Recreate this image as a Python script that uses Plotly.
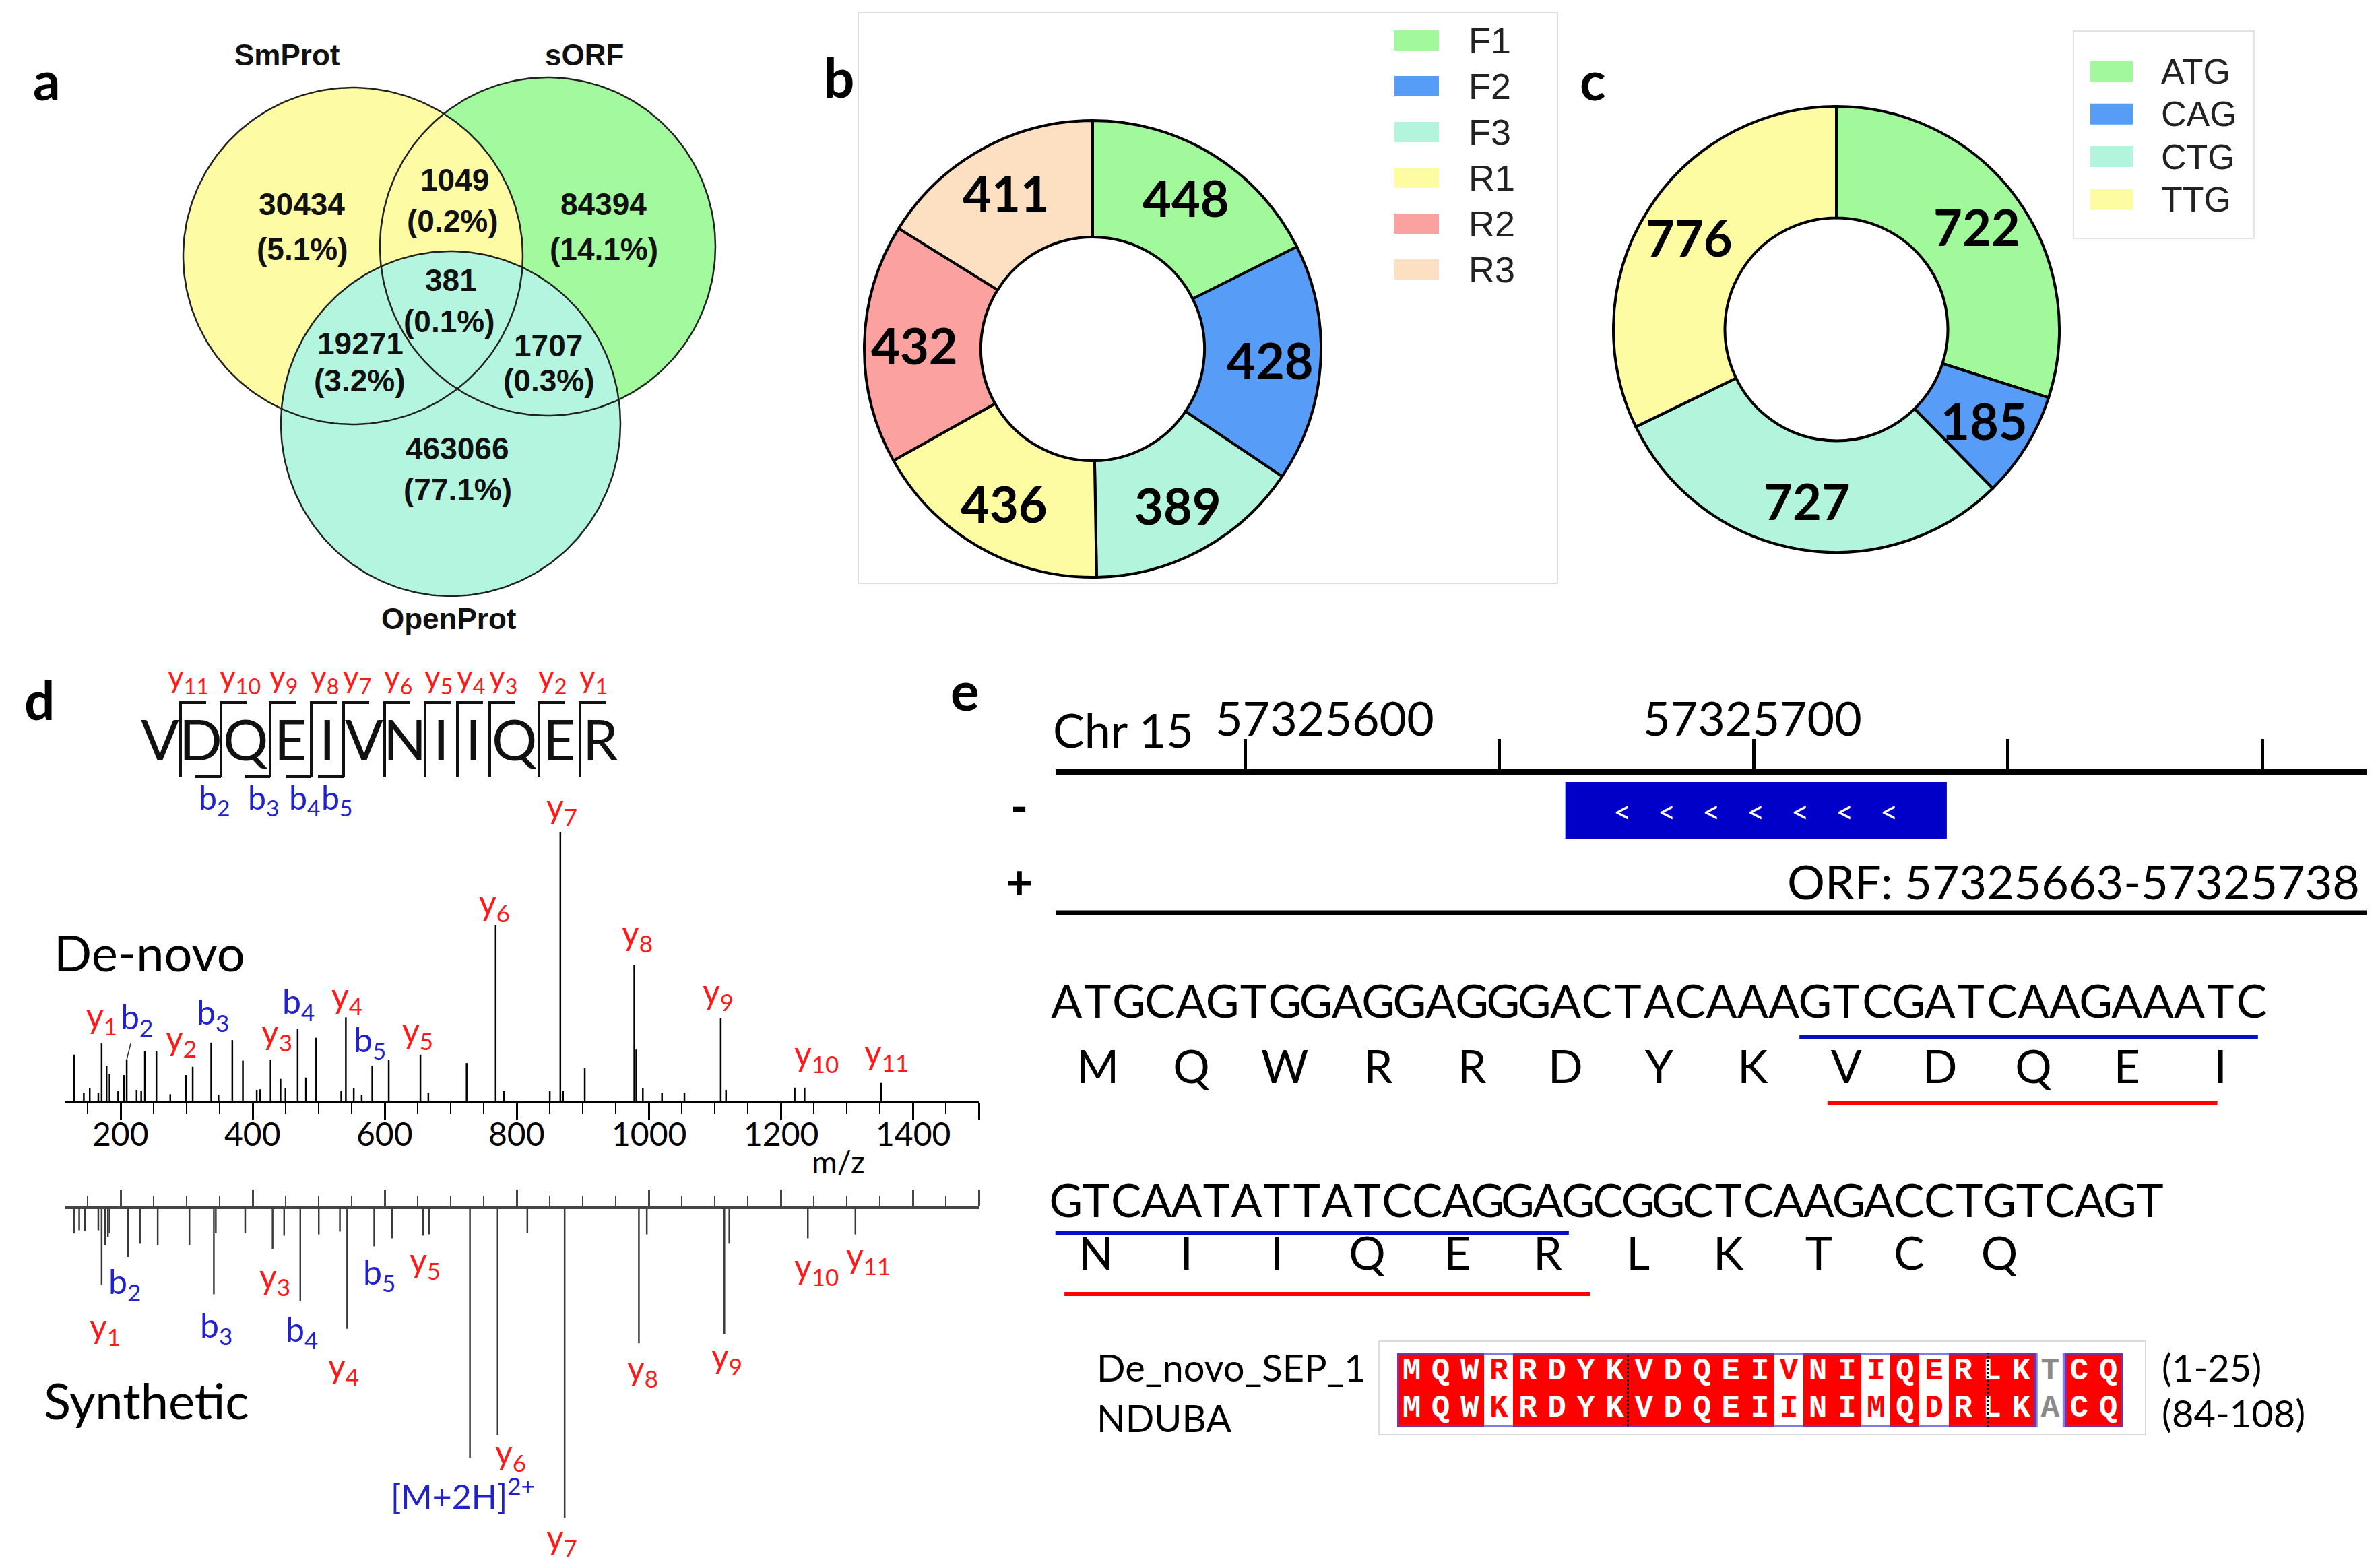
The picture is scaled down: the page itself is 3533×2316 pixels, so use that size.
import numpy as np
import plotly.graph_objects as go

W, H = 3533, 2316

# ======================= DATA =======================
venn_sets = ["SmProt", "sORF", "OpenProt"]
venn_regions = ["SmProt only", "SmProt & sORF", "sORF only", "all three",
                "SmProt & OpenProt", "sORF & OpenProt", "OpenProt only"]
venn_counts = [30434, 1049, 84394, 381, 19271, 1707, 463066]

frame_labels = ["F1", "F2", "F3", "R1", "R2", "R3"]
frame_counts = [448, 428, 389, 436, 432, 411]

codon_labels = ["ATG", "CAG", "CTG", "TTG"]
codon_counts = [722, 185, 727, 776]

peptide = "VDQEIVNIIQER"
y_ion_labels = ["y11", "y10", "y9", "y8", "y7", "y6", "y5", "y4", "y3", "y2", "y1"]
b_ion_labels = ["b2", "b3", "b4", "b5"]

denovo_mz = [129, 144, 153, 166, 171, 178.5, 183, 196, 205, 209, 224, 231, 236.5, 254, 275,
             298.5, 309, 337, 348, 369, 385, 406, 411, 427, 442, 449.5, 468, 480.5, 496, 534,
             541, 553, 565, 581, 606, 654, 666, 724, 768, 780.5, 850, 866, 870, 903, 978,
             981, 991, 1020, 1054, 1109, 1117, 1221, 1236, 1352]
denovo_int = [0.171, 0.03, 0.045, 0.03, 0.213, 0.13, 0.10, 0.036, 0.095, 0.153, 0.04, 0.036, 0.185, 0.185, 0.024,
              0.095, 0.126, 0.216, 0.022, 0.225, 0.149, 0.04, 0.042, 0.153, 0.081, 0.045, 0.266, 0.086, 0.234, 0.036,
              0.31, 0.045, 0.022, 0.13, 0.153, 0.171, 0.03, 0.14, 0.653, 0.036, 0.036, 1.0, 0.036, 0.12, 0.504,
              0.19, 0.045, 0.03, 0.03, 0.306, 0.04, 0.048, 0.048, 0.066]
denovo_ions = ["y1", "b2", "y2", "b3", "y3", "b4", "y4", "b5", "y5", "y6", "y7", "y8", "y9", "y10", "y11"]
denovo_ion_mz = [171, 209, 309, 337, 427, 468, 541, 581, 654, 768, 866, 978, 1109, 1236, 1352]

synth_mz = [129, 137, 145.5, 166, 171, 176, 180.5, 183, 211, 229, 256, 304, 341, 344, 388.5,
            430, 447.5, 472, 500, 532, 543, 584, 611, 658, 667, 729, 771, 816, 872.5, 985,
            997, 1114.5, 1122, 1241, 1313]
synth_int = [0.079, 0.069, 0.071, 0.069, 0.246, 0.116, 0.09, 0.079, 0.155, 0.112, 0.116, 0.116, 0.276, 0.078, 0.078,
             0.129, 0.086, 0.297, 0.082, 0.073, 0.388, 0.121, 0.095, 0.086, 0.082, 0.806, 0.733, 0.078, 1.0, 0.435,
             0.082, 0.405, 0.112, 0.095, 0.082]
synth_ions = ["y1", "b2", "b3", "y3", "b4", "y4", "b5", "y5", "[M+2H]2+", "y6", "y7", "y8", "y9", "y10", "y11"]
synth_ion_mz = [171, 211, 341, 430, 472, 543, 584, 658, 729, 771, 872.5, 985, 1114.5, 1241, 1313]

mz_ticks = [200, 400, 600, 800, 1000, 1200, 1400]
mz_end = 1500

chrom_label = "Chr 15"
genome_ticks = [57325600, 57325650, 57325700, 57325750, 57325800]
genome_tick_labels = [57325600, 57325700]
orf_start, orf_end = 57325663, 57325738

dna_rows = ["ATGCAGTGGAGGAGGGACTACAAAGTCGATCAAGAAATC",
            "GTCAATATTATCCAGGAGCGGCTCAAGACCTGTCAGT"]
aa_rows = ["MQWRRDYKVDQEI", "NIIQERLKTCQ"]

aln_names = ["De_novo_SEP_1", "NDUBA"]
aln_seqs = ["MQWRRDYKVDQEIVNIIQERLKTCQ", "MQWKRDYKVDQEIINIMQDRLKACQ"]
aln_ranges = ["(1-25)", "(84-108)"]
similar_pairs = [{"R", "K"}, {"V", "I"}, {"I", "M"}, {"E", "D"}]

# ======================= HELPERS =======================
fig = go.Figure()
ann, shp = [], []


def xdom(a, b):
    return [a / W, b / W]


def ydom(top, bottom):
    return [1 - bottom / H, 1 - top / H]


def text(x, y, s, size, color="black", family="Lato", bold=False, xa="center", ya="middle",
         xref="x", yref="y", **kw):
    if bold:
        s = "<b>" + s + "</b>"
    d = dict(x=x, y=y, xref=xref, yref=yref, text=s, showarrow=False, xanchor=xa, yanchor=ya,
             font=dict(size=size, color=color, family=family))
    d.update(kw)
    ann.append(d)


def line(x0, y0, x1, y1, color="black", width=4, dash=None, xref="x", yref="y"):
    ln = dict(color=color, width=width)
    if dash:
        ln["dash"] = dash
    shp.append(dict(type="line", xref=xref, yref=yref, x0=x0, y0=y0, x1=x1, y1=y1, line=ln, layer="above"))


def rect(x0, y0, x1, y1, fill=None, color=None, width=0, dash=None, xref="x", yref="y", layer="above"):
    ln = dict(color=color if color else "rgba(0,0,0,0)", width=width)
    if dash:
        ln["dash"] = dash
    d = dict(type="rect", xref=xref, yref=yref, x0=x0, y0=y0, x1=x1, y1=y1, line=ln, layer=layer)
    if fill:
        d["fillcolor"] = fill
    shp.append(d)


# ======================= PANEL LABELS =======================
for lab, (x, y) in zip("abcde", [(61, 110), (1237, 106), (2356, 110), (50, 1030), (1424, 1016)]):
    text(x, y, lab, 80, bold=True)

# ======================= PANEL a : Venn =======================
venn_geom = {"SmProt": (516, 372, 252, 250, "#fdfca4"),
             "sORF": (805, 358, 249, 251, "#a3f99d"),
             "OpenProt": (661, 621, 252, 256, "#b3f5de")}
t = np.linspace(0, 2 * np.pi, 240)
for name in ["sORF", "SmProt", "OpenProt"]:
    cx, cy, rx, ry, col = venn_geom[name]
    fig.add_trace(go.Scatter(x=cx + rx * np.cos(t), y=cy + ry * np.sin(t), mode="lines", fill="toself",
                             fillcolor=col, line=dict(width=0), hoverinfo="skip", showlegend=False,
                             xaxis="x", yaxis="y"))
for name in venn_sets:
    cx, cy, rx, ry, col = venn_geom[name]
    fig.add_trace(go.Scatter(x=cx + rx * np.cos(t), y=cy + ry * np.sin(t), mode="lines",
                             line=dict(width=2.5, color="#222222"), hoverinfo="skip", showlegend=False,
                             xaxis="x", yaxis="y"))

venn_total = float(sum(venn_counts))
venn_num_pos = [(440, 295), (667, 259), (888, 295), (661, 408), (527, 502), (806, 505), (671, 658)]
venn_pct_pos = [(440, 362), (663, 320), (888, 362), (658, 469), (525, 557), (806, 557), (671, 719)]
for c, (x, y), (x2, y2) in zip(venn_counts, venn_num_pos, venn_pct_pos):
    text(x, y, f"{c}", 46, family="Liberation Sans", bold=True, color="#111")
    text(x2, y2, f"({100 * c / venn_total:.1f}%)", 46, family="Liberation Sans", bold=True, color="#111")
for name, (x, y) in zip(venn_sets, [(418, 73), (859, 73), (658, 910)]):
    text(x, y, name, 44, family="Liberation Sans", bold=True, color="#111")

# ======================= PANEL b, c : donuts =======================
frame_colors = ["#a2f99c", "#579df8", "#b3f4dc", "#fdfca2", "#fba2a1", "#fddfc1"]
codon_colors = ["#a2f99c", "#579df8", "#b3f4dc", "#fdfca2"]


def donut(labels, values, colors, cx, cy, r, hole, label_r, size):
    fig.add_trace(go.Pie(labels=labels, values=values, hole=hole, sort=False, direction="clockwise",
                         rotation=0, marker=dict(colors=colors, line=dict(color="black", width=4)),
                         textinfo="none", hoverinfo="skip", showlegend=False,
                         domain=dict(x=xdom(cx - r, cx + r), y=ydom(cy - r, cy + r))))
    tot = float(sum(values))
    cum = 0.0
    for v in values:
        a = 2 * np.pi * (cum + v / 2) / tot
        text(cx + label_r * r * np.sin(a), cy - label_r * r * np.cos(a), str(v), size, bold=True)
        cum += v


def legend(labels, colors, x_sw, w_sw, h_sw, y0, dy, x_txt, size):
    for i, (lab, col) in enumerate(zip(labels, colors)):
        y = y0 + i * dy
        rect(x_sw, y - h_sw / 2, x_sw + w_sw, y + h_sw / 2, fill=col)
        text(x_txt, y, lab, size, family="Liberation Sans", xa="left", color="#222")


rect(1266, 11, 2304, 858, color="#dddddd", width=2)
donut(frame_labels, frame_counts, frame_colors, 1614, 510, 339, 0.49, 0.78, 74)
legend(frame_labels, frame_colors, 2062, 66, 30, 52, 68, 2170, 54)

rect(3070, 38, 3338, 346, color="#e4e4e4", width=2)
donut(codon_labels, codon_counts, codon_colors, 2718, 481, 331, 0.5, 0.78, 74)
legend(codon_labels, codon_colors, 3095, 63, 31, 98, 63.3, 3198, 52)

# ======================= PANEL d : peptide map =======================
pep_slot = {"V": 61, "D": 60, "Q": 73, "E": 61, "I": 48, "N": 60, "R": 60}
bounds = [260.0]
for aa in peptide[1:-1]:
    bounds.append(bounds[-1] + pep_slot[aa])
centers = [bounds[0] - pep_slot[peptide[0]] / 2]
for i in range(1, len(peptide) - 1):
    centers.append((bounds[i - 1] + bounds[i]) / 2)
centers.append(bounds[-1] + pep_slot[peptide[-1]] / 2)
for aa, cxp in zip(peptide, centers):
    text(cxp, 1088, aa, 84, color="#111")
bx, by = [], []
y_lab_tweak = {0: -9, 1: 8}
for i, bnd in enumerate(bounds):
    bx += [bnd + 38, bnd, bnd, None]
    by += [1035, 1035, 1145, None]
    text(bnd + 20 + y_lab_tweak.get(i, 0), 999, "y<sub>" + y_ion_labels[i][1:] + "</sub>", 46,
         color="#ff1a1a")
for k, lab in enumerate(b_ion_labels):
    bnd = bounds[k + 1]
    bx += [bnd, bnd - 38, None]
    by += [1145, 1145, None]
    text(bnd - 10, 1179, "b<sub>" + lab[1:] + "</sub>", 48, color="#2222cc")
fig.add_trace(go.Scatter(x=bx, y=by, mode="lines", line=dict(color="#111", width=4), hoverinfo="skip",
                         showlegend=False, xaxis="x", yaxis="y"))

# ======================= PANEL d : spectra =======================
top_base, top_scale = 1626, 399
bot_base, bot_scale = 1787, 458


def stems(mz, h):
    xs, ys = [], []
    for m, v in zip(mz, h):
        xs += [m, m, None]
        ys += [0, v, None]
    return xs, ys


sx, sy = stems(denovo_mz, denovo_int)
fig.add_trace(go.Scatter(x=sx, y=sy, mode="lines", line=dict(color="black", width=2.5), hoverinfo="skip",
                         showlegend=False, xaxis="x2", yaxis="y2"))
sx, sy = stems(synth_mz, [-v for v in synth_int])
fig.add_trace(go.Scatter(x=sx, y=sy, mode="lines", line=dict(color="#3a3a3a", width=2.5), hoverinfo="skip",
                         showlegend=False, xaxis="x3", yaxis="y3"))


def lookup(mzs, ints, m):
    i = int(np.argmin(np.abs(np.array(mzs) - m)))
    return ints[i]


def ion_html(name):
    if name.startswith("["):
        return "[M+2H]<sup>2+</sup>"
    return name[0] + "<sub>" + name[1:] + "</sub>"


def ion_color(name):
    return "#ff1a1a" if name.startswith("y") else "#2222cc"


ION_SIZE = 50
top_shift = {"y1": (0, 3), "y2": (-17, 5), "b3": (2, 7), "y3": (9, 3), "b4": (1, 3), "y4": (2, -6),
             "b5": (-4, 0), "y5": (-4, -2), "y6": (-2, -5), "y7": (2, 0), "y8": (4, 10), "y9": (-4, 2),
             "y10": (18, 13), "y11": (8, 8)}
for name, m in zip(denovo_ions, denovo_ion_mz):
    h = lookup(denovo_mz, denovo_int, m)
    if name == "b2":
        ann.append(dict(x=m, y=h, xref="x2", yref="y2", text=ion_html(name), showarrow=True, arrowhead=0,
                        arrowwidth=1.5, arrowcolor="#333", ax=15, ay=-60, standoff=0,
                        font=dict(size=ION_SIZE, color=ion_color(name), family="Lato")))
    else:
        xs, ys = top_shift[name]
        text(m, h, ion_html(name), ION_SIZE, color=ion_color(name), xref="x2", yref="y2", ya="bottom",
             xshift=xs, yshift=ys)

bot_shift = {"y1": (5, -28), "b2": (-5, -4), "b3": (4, -14), "y3": (3, -8), "b4": (2, -10), "y4": (-5, -22),
             "b5": (7, -6), "y5": (3, -4), "[M+2H]2+": (-11, -18), "y6": (19, 8), "y7": (-4, 4),
             "y8": (6, -4), "y9": (4, 0), "y10": (13, -8), "y11": (19, 2)}
for name, m in zip(synth_ions, synth_ion_mz):
    h = -lookup(synth_mz, synth_int, m)
    xs, ys = bot_shift[name]
    text(m, h, ion_html(name), ION_SIZE, color=ion_color(name), xref="x3", yref="y3", ya="top",
         xshift=xs, yshift=ys)

# m/z tick labels placed just under the major ticks
for v in mz_ticks:
    text(v, 1674, str(v), 48, xref="x2", yref="y")

text(214, 1405, "De-novo", 74, xa="center")
text(209, 2070, "Synthetic", 74, xa="center")
text(1236, 1716, "m/z", 46)

# ======================= PANEL e : genome track =======================
px_per_bp = 7.55
g0 = genome_ticks[0] - (1840 - 1559) / px_per_bp
g1 = genome_ticks[0] + (3505 - 1840) / px_per_bp

fig.add_trace(go.Scatter(x=[orf_start, orf_end, orf_end, orf_start, orf_start],
                         y=[1153, 1153, 1237, 1237, 1153], mode="lines", fill="toself",
                         fillcolor="#0000c8", line=dict(width=0), hoverinfo="skip", showlegend=False,
                         xaxis="x4", yaxis="y4"))
for gx in np.linspace(orf_start + 0.15 * (orf_end - orf_start), orf_end - 0.15 * (orf_end - orf_start), 7):
    text(gx, 1196, "<", 46, color="white", xref="x4", yref="y")

text(1553, 1075, chrom_label, 70, xa="left")
for gv, xs in zip(genome_tick_labels, [118, -2]):
    text(gv, 1057, str(gv), 70, xref="x4", yref="y", xshift=xs)
text(1505, 1188, "-", 70, bold=True)
text(1505, 1300, "+", 70, bold=True)
text(3497, 1300, f"ORF: {orf_start}-{orf_end}", 70, xa="right")
line(1559, 1347, 3505, 1347, width=7)

# ======================= PANEL e : sequences =======================
row_x0 = 1552
row_pitch = [46.3, 44.7]
dna_y = [1486, 1782]
aa_y = [1583, 1860]
tx, ty, tt = [], [], []
for r, seq in enumerate(dna_rows):
    for i, ch in enumerate(seq):
        tx.append(row_x0 + (i + 0.5) * row_pitch[r])
        ty.append(dna_y[r])
        tt.append(ch)
fig.add_trace(go.Scatter(x=tx, y=ty, text=tt, mode="text", textposition="middle center",
                         textfont=dict(family="Lato", size=68, color="black"), hoverinfo="skip",
                         showlegend=False, xaxis="x", yaxis="y"))
tx, ty, tt = [], [], []
for r, seq in enumerate(aa_rows):
    for i, ch in enumerate(seq):
        tx.append(row_x0 + (3 * i + 1.5) * row_pitch[r])
        ty.append(aa_y[r])
        tt.append(ch)
fig.add_trace(go.Scatter(x=tx, y=ty, text=tt, mode="text", textposition="middle center",
                         textfont=dict(family="Lato", size=68, color="black"), hoverinfo="skip",
                         showlegend=False, xaxis="x", yaxis="y"))

blue_spans = [(0, 24.0, 38.7, 1532), (1, 0.15, 17.2, 1822)]
red_spans = [(0, 24.9, 37.4, 1629), (1, 0.45, 17.9, 1913)]
for r, c0, c1, yy in blue_spans:
    line(row_x0 + c0 * row_pitch[r], yy, row_x0 + c1 * row_pitch[r], yy, color="#0010c8", width=6)
for r, c0, c1, yy in red_spans:
    line(row_x0 + c0 * row_pitch[r], yy, row_x0 + c1 * row_pitch[r], yy, color="#ff0000", width=6)

# ======================= PANEL e : alignment =======================
ncol = len(aln_seqs[0])
z = []
for r in range(2):
    row = []
    for a, b in zip(aln_seqs[0], aln_seqs[1]):
        if a == b:
            row.append(2)
        elif {a, b} in similar_pairs:
            row.append(1)
        else:
            row.append(0)
    z.append(row)
fig.add_trace(go.Heatmap(z=z, x=list(range(ncol)), y=[0, 1], zmin=0, zmax=2, showscale=False,
                         colorscale=[[0, "#ffffff"], [0.74, "#ffffff"], [0.75, "#ff0000"], [1, "#ff0000"]],
                         hoverinfo="skip", xaxis="x5", yaxis="y5"))
lx, ly, lt, lc = [], [], [], []
for r in range(2):
    for i in range(ncol):
        lx.append(i)
        ly.append(r)
        lt.append(aln_seqs[r][i])
        lc.append("white" if z[r][i] == 2 else ("#ff0000" if z[r][i] == 1 else "#8a8a8a"))
fig.add_trace(go.Scatter(x=lx, y=ly, text=lt, mode="text", textposition="middle center",
                         textfont=dict(family="Liberation Mono", size=46, color=lc, weight="bold"),
                         hoverinfo="skip", showlegend=False, xaxis="x5", yaxis="y5"))
blocks = []
start = None
for i in range(ncol):
    if z[0][i] > 0 and start is None:
        start = i
    if z[0][i] == 0 and start is not None:
        blocks.append((start, i - 1))
        start = None
if start is not None:
    blocks.append((start, ncol - 1))
for b0, b1 in blocks:
    rect(b0 - 0.5, -0.5, b1 + 0.5, 1.5, color="rgba(70,70,225,0.7)", width=6, xref="x5", yref="y5")
pep_pos = aln_seqs[0].find(peptide)
rect(pep_pos - 0.55, -0.75, pep_pos + len(peptide) - 0.15, 1.66, color="black", width=3, dash="dot",
     xref="x5", yref="y5")
rect(2039, 1983, 3177, 2122, color="#dcdcdc", width=2)
for name, yy in zip(aln_names, [2021, 2096]):
    text(1618, yy, name, 56, xa="left")
for rg, yy in zip(aln_ranges, [2021, 2089]):
    text(3199, yy, rg, 56, xa="left")

# ======================= LAYOUT =======================
minor = dict(ticks="outside", tickmode="linear", tick0=0, dtick=50, ticklen=16, tickwidth=2,
             tickcolor="black", showgrid=False)
fig.update_layout(
    width=W, height=H, margin=dict(l=0, r=0, t=0, b=0),
    paper_bgcolor="white", plot_bgcolor="rgba(0,0,0,0)", showlegend=False, hovermode=False,
    xaxis=dict(domain=[0, 1], range=[0, W], visible=False),
    yaxis=dict(domain=[0, 1], range=[H, 0], visible=False),
    xaxis2=dict(domain=xdom(88, 1445), range=[115, mz_end], anchor="y2", showline=True, linecolor="black",
                linewidth=4, ticks="outside", ticklen=25, tickwidth=3, tickcolor="black", tickmode="array",
                tickvals=mz_ticks + [mz_end], showticklabels=False, showgrid=False, zeroline=False,
                minor=minor),
    yaxis2=dict(domain=ydom(top_base - top_scale * 1.05, top_base), range=[0, 1.05], visible=False),
    xaxis3=dict(domain=xdom(88, 1445), range=[115, mz_end], anchor="y3", side="top", showline=True,
                linecolor="#444", linewidth=4, ticks="outside", ticklen=25, tickwidth=3, tickcolor="#444",
                tickmode="array", tickvals=mz_ticks + [mz_end], showticklabels=False, showgrid=False,
                zeroline=False, minor=dict(minor, tickcolor="#444")),
    yaxis3=dict(domain=ydom(bot_base, bot_base + bot_scale * 1.05), range=[-1.05, 0], visible=False),
    xaxis4=dict(domain=xdom(1559, 3505), range=[g0, g1], anchor="y4", side="top", showline=True,
                linecolor="black", linewidth=8, ticks="outside", ticklen=45, tickwidth=5, tickcolor="black",
                tickmode="array", tickvals=genome_ticks, showticklabels=False, showgrid=False, zeroline=False),
    yaxis4=dict(domain=ydom(1142, 1360), range=[1360, 1142], visible=False),
    xaxis5=dict(domain=xdom(2066, 3143), range=[-0.5, ncol - 0.5], anchor="y5", visible=False),
    yaxis5=dict(domain=ydom(2001, 2111), range=[1.5, -0.5], visible=False),
    annotations=ann, shapes=shp,
)

fig.write_html("out.html")
